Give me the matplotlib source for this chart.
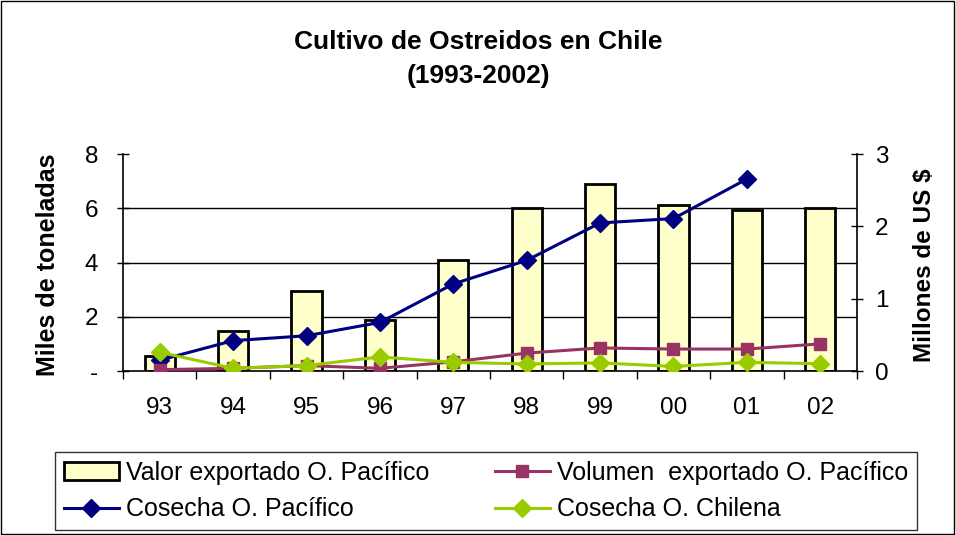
import numpy as np
import matplotlib.pyplot as plt
from matplotlib.patches import Rectangle

plt.rcParams['font.family'] = ['Liberation Sans', 'DejaVu Sans']

years = ['93', '94', '95', '96', '97', '98', '99', '00', '01', '02']
valor_export = [0.21, 0.55, 1.11, 0.71, 1.53, 2.25, 2.59, 2.29, 2.22, 2.25]   # millones US$
cosecha_pacifico = [0.40, 1.12, 1.30, 1.79, 3.21, 4.08, 5.46, 5.62, 7.08, np.nan]  # miles t
volumen_export = [0.05, 0.10, 0.20, 0.10, 0.34, 0.66, 0.85, 0.81, 0.81, 1.00]
cosecha_chilena = [0.69, 0.10, 0.20, 0.52, 0.32, 0.26, 0.30, 0.17, 0.32, 0.27]

x = np.arange(len(years))

fig = plt.figure(figsize=(9.56, 5.35), dpi=100)
ax = fig.add_axes([0.1287, 0.3065, 0.7677, 0.4056])
ax2 = ax.twinx()

# bars and grid on the right axis, behind the lines
bars = ax2.bar(x, valor_export, width=0.41, color='#FFFFCC', edgecolor='black',
               linewidth=2, label='Valor exportado O. Pacífico', zorder=3)
ax2.set_ylim(0, 3)
ax2.set_yticks([0, 1, 2, 3])
ax2.set_yticks([0.75, 1.5, 2.25, 3], minor=True)
ax2.grid(which='minor', axis='y', color='black', linewidth=1, zorder=0)
ax2.tick_params(which='minor', length=0)
ax2.tick_params(which='major', direction='inout', length=8, width=1, labelsize=17.5, pad=9)
ax2.set_ylabel('Millones de US $', fontsize=17.5, fontweight='bold')
ax2.yaxis.set_label_coords(1.0763, 0.49)

ax.set_zorder(ax2.get_zorder() + 1)
ax.patch.set_visible(False)

l1, = ax.plot(x, cosecha_pacifico, color='#000080', marker='D', markersize=9,
              linewidth=2.2, label='Cosecha O. Pacífico', zorder=4)
l2, = ax.plot(x, volumen_export, color='#993366', marker='s', markersize=9,
              linewidth=2.2, label='Volumen  exportado O. Pacífico', zorder=4)
l3, = ax.plot(x, cosecha_chilena, color='#99CC00', marker='D', markersize=9,
              linewidth=2.2, label='Cosecha O. Chilena', zorder=4)

ax.set_xlim(-0.5, len(years) - 0.5)
ax.set_ylim(0, 8)
ax.set_yticks([0, 2, 4, 6, 8])
ax.set_yticklabels(['-', '2', '4', '6', '8'])
ax.set_xticks(np.arange(-0.5, len(years), 1))
ax.set_xticklabels([])
ax.set_xticks(x, minor=True)
ax.set_xticklabels(years, minor=True)
ax.tick_params(axis='x', which='major', direction='out', length=6, width=1)
ax.tick_params(axis='x', which='minor', length=0, labelsize=17.5, pad=19)
ax.tick_params(axis='y', direction='inout', length=8, width=1, labelsize=17.5, pad=14)
ax.set_ylabel('Miles de toneladas', fontsize=18, fontweight='bold')
ax.yaxis.set_label_coords(-0.0858, 0.49)

for a in (ax, ax2):
    a.spines['top'].set_visible(False)
ax.spines['right'].set_visible(False)
ax2.spines['left'].set_visible(False)
for s in ('left', 'bottom'):
    ax.spines[s].set_linewidth(1.2)
ax2.spines['right'].set_linewidth(1.2)
ax2.spines['bottom'].set_visible(False)

fig.text(0.5, 0.922, 'Cultivo de Ostreidos en Chile', ha='center', va='center',
         fontsize=19, fontweight='bold')
fig.text(0.5, 0.858, '(1993-2002)', ha='center', va='center',
         fontsize=19, fontweight='bold')

leg = fig.legend(handles=[bars, l1, l2, l3], ncol=2, loc='upper left',
                 bbox_to_anchor=(55 / 956, 1 - 452 / 535),
                 fontsize=18, frameon=True, fancybox=False, edgecolor='black',
                 borderaxespad=0, handlelength=2.2, handletextpad=0.3,
                 labelspacing=0.5, borderpad=0.35, columnspacing=2.6)
leg.get_frame().set_linewidth(1)

fig.patches.append(Rectangle((0.001, 0.002), 0.997, 0.996, transform=fig.transFigure,
                             fill=False, edgecolor='black', linewidth=1))

fig.savefig('out.png', dpi=100)
